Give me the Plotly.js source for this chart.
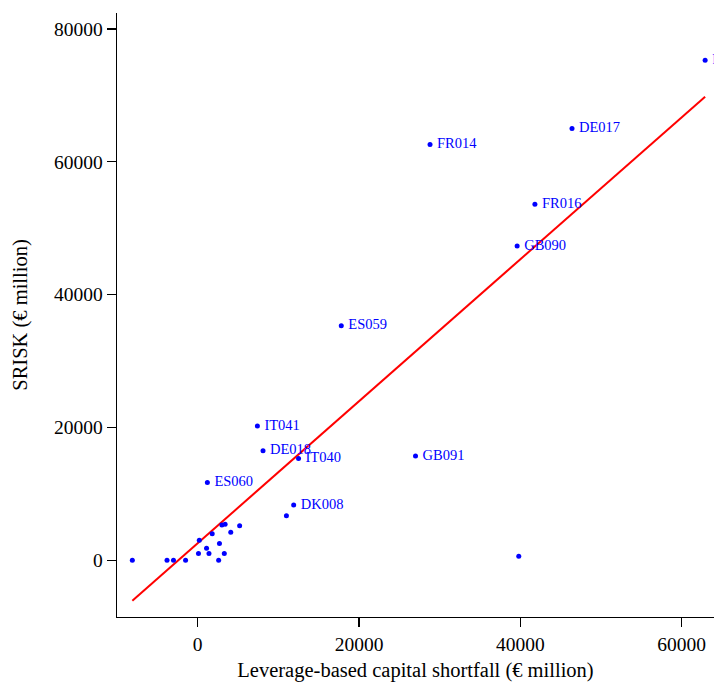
<!DOCTYPE html>
<html>
<head>
<meta charset="utf-8">
<script src="https://cdn.plot.ly/plotly-3.0.1.min.js"></script>
<style>html,body{margin:0;padding:0;background:#fff;}#chart{width:714px;height:682px;}</style>
</head>
<body>
<div id="chart"></div>
<script>
// Leverage-based capital shortfall (€ million)
const shortfall = [62900, 46400, 28800, 41800, 39600, 17800, 7400, 8100, 12500, 27000, 1200, 11900, 11000, 39800,
  -8100, -3800, -3000, -1500, 200, 100, 1100, 1400, 1800, 2600, 2700, 3000, 3400, 3300, 4100, 5200];
// SRISK (€ million)
const srisk = [75300, 65000, 62600, 53600, 47300, 35300, 20200, 16500, 15300, 15700, 11700, 8300, 6700, 600,
  0, 0, 0, 0, 3000, 1000, 1800, 1000, 4000, 0, 2500, 5300, 5400, 1000, 4200, 5200];
const bankLabels = ["FR013", "DE017", "FR014", "FR016", "GB090", "ES059", "IT041", "DE018", "IT040", "GB091", "ES060", "DK008", "", "",
  "", "", "", "", "", "", "", "", "", "", "", "", "", "", "", ""];
// fitted line end points
const fitX = [-8100, 62900];
const fitY = [-6100, 69800];
const xTicks = [0, 20000, 40000, 60000];
const yTicks = [0, 20000, 40000, 60000, 80000];

const serif = '"Liberation Serif", "Times New Roman", Times, serif';

const traces = [
  {
    x: fitX, y: fitY, type: 'scatter', mode: 'lines',
    line: {color: 'red', width: 2}, hoverinfo: 'skip', showlegend: false
  },
  {
    x: shortfall, y: srisk, text: bankLabels.map(s => s ? '\u2009' + s : s), type: 'scatter', mode: 'markers+text',
    textposition: 'middle right',
    textfont: {family: serif, size: 14.5, color: 'blue'},
    marker: {color: 'blue', size: 5}, showlegend: false
  }
];

const layout = {
  width: 714, height: 682,
  margin: {l: 117, r: 0, t: 13, b: 65, autoexpand: false},
  paper_bgcolor: 'white', plot_bgcolor: 'white',
  font: {family: serif, size: 19, color: 'black'},
  showlegend: false,
  xaxis: {
    range: [-10000, 64000], showgrid: false, zeroline: false, automargin: false,
    showline: true, linecolor: 'black', linewidth: 1.3,
    ticks: 'outside', ticklen: 9, tickwidth: 1.3, tickcolor: 'black',
    tickvals: xTicks, ticktext: xTicks.map(String),
    tickfont: {family: serif, size: 19.5},
    title: {text: 'Leverage-based capital shortfall (€ million)', font: {family: serif, size: 20.5}}
  },
  yaxis: {
    range: [-8550, 82400], showgrid: false, zeroline: false, automargin: false,
    showline: true, linecolor: 'black', linewidth: 1.3,
    ticks: 'outside', ticklen: 9, tickwidth: 1.3, tickcolor: 'black',
    tickvals: yTicks, ticktext: yTicks.map(String),
    tickfont: {family: serif, size: 19.5},
    title: {text: 'SRISK (€ million)', font: {family: serif, size: 20.5}, standoff: 21}
  }
};

Plotly.newPlot('chart', traces, layout, {displayModeBar: false, staticPlot: true});
</script>
</body>
</html>
